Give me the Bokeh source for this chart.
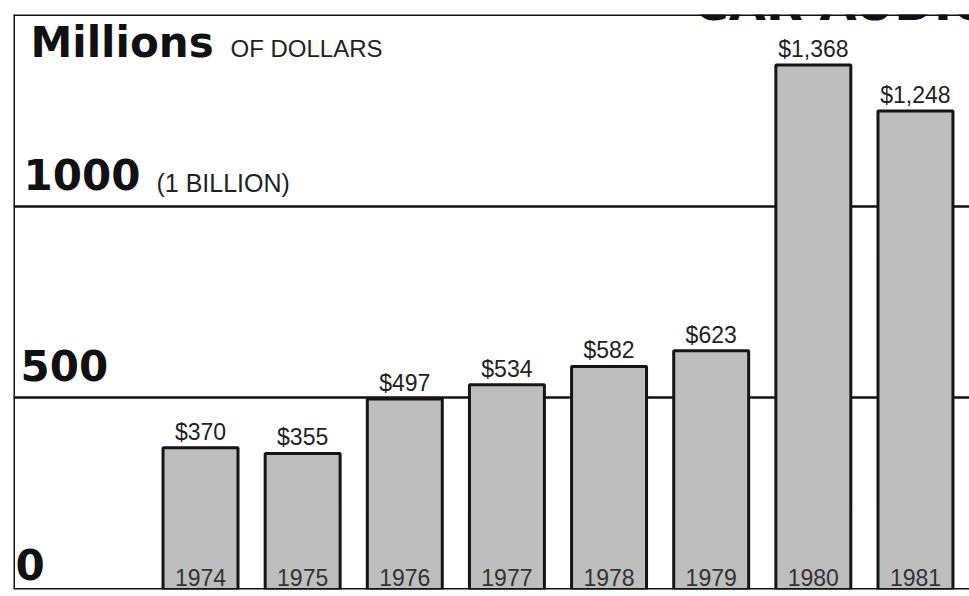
from bokeh.plotting import figure
from bokeh.models import ColumnDataSource, LabelSet, Label, Span, Range1d, FixedTicker
from bokeh.core.properties import value
from bokeh.embed import file_html
from bokeh.resources import INLINE

# ---- data ----
years = [1974, 1975, 1976, 1977, 1978, 1979, 1980, 1981]
year_labels = ["1974", "1975", "1976", "1977", "1978", "1979", "1980", "1981"]
sales = [370, 355, 497, 534, 582, 623, 1368, 1248]
sales_labels = ["$370", "$355", "$497", "$534", "$582", "$623", "$1,368", "$1,248"]
grid_values = [500, 1000]

source = ColumnDataSource(dict(x=years, top=sales, vlab=sales_labels,
                               ylab=year_labels, zero=[0] * len(years)))

X0, X1 = 1972.169, 1981.529
Y0, Y1 = 0, 1500

p = figure(width=969, height=596, output_backend="svg", toolbar_location=None,
           x_range=Range1d(X0, X1), y_range=Range1d(Y0, Y1),
           min_border_left=13, min_border_right=0, min_border_top=14, min_border_bottom=7)
p.axis.visible = False
p.xgrid.visible = False
p.ygrid.ticker = FixedTicker(ticks=grid_values)
p.ygrid.grid_line_color = "#111111"
p.ygrid.grid_line_width = 2.5
p.outline_line_color = None
p.background_fill_color = "white"
p.border_fill_color = "white"

p.vbar(x="x", top="top", bottom=0, width=0.734, source=source,
       fill_color="#bebebe", line_color="#151515", line_width=3)

FONT = "Liberation Sans"
HEAVY = "DejaVu Sans"

p.add_layout(LabelSet(x="x", y="top", text="vlab", source=source, y_offset=8,
                      text_align="center", text_baseline="alphabetic",
                      text_font=value(FONT), text_font_size="23px", text_color="#222222"))
p.add_layout(LabelSet(x="x", y="zero", text="ylab", source=source, y_offset=4,
                      text_align="center", text_baseline="alphabetic",
                      text_font=value(FONT), text_font_size="23px", text_color="#333333"))

def lab(text, x_off, y, y_off, size, font, style="normal", x=X0, color="#111111"):
    p.add_layout(Label(x=x, y=y, x_offset=x_off, y_offset=y_off, text=text,
                       text_align="left", text_baseline="alphabetic",
                       text_font=font, text_font_size=size, text_font_style=style,
                       text_color=color))

lab("Millions", 17, Y1, -28, "42px", HEAVY, "bold")
lab("OF DOLLARS", 217, Y1, -34, "24px", FONT, color="#222222")
lab("1000", 10, 1000, 32, "42px", HEAVY, "bold")
lab("(1 BILLION)", 143, 1000, 23, "25px", FONT, color="#222222")
lab("500", 7, 500, 32, "42px", HEAVY, "bold")
lab("0", 2, 0, 25, "42px", HEAVY, "bold")
lab("CAR AUDIO", 680, Y1, 12, "48px", HEAVY, "bold")

# frame edges (left, top, bottom), drawn over the title's lower edge
for loc, dim in [(X0, "height"), (Y1, "width"), (Y0, "width")]:
    p.add_layout(Span(location=loc, dimension=dim, line_color="#111111", line_width=3))

open("out.html", "w").write(file_html(p, INLINE))
